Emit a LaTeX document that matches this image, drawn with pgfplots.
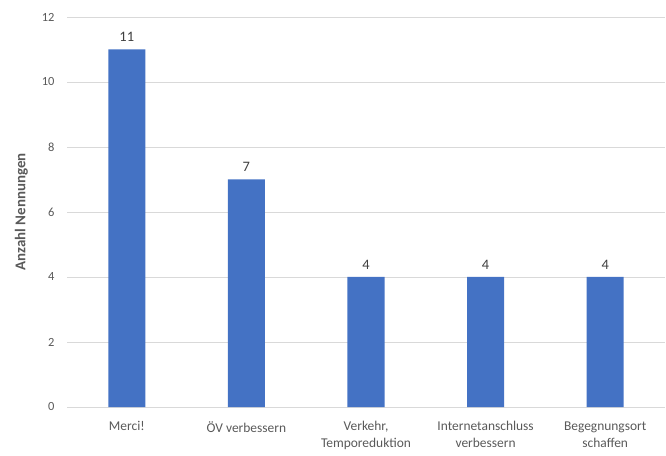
\documentclass[border=0pt]{standalone}
\usepackage{fontspec}
\setmainfont{Carlito}
\usepackage{pgfplots}
\pgfplotsset{compat=1.18}
\definecolor{barblue}{HTML}{4472C4}
\definecolor{txtgray}{HTML}{595959}
\definecolor{gridgray}{HTML}{D9D9D9}
\begin{document}
\begin{tikzpicture}
\path (-67bp,-49bp) rectangle (599bp,407bp);
\begin{axis}[
  scale only axis,
  width=598bp, height=390bp,
  ybar, bar width=37bp,
  xmin=-0.5, xmax=4.5,
  ymin=0, ymax=12,
  ytick={0,2,...,12},
  xtick=data,
  xticklabels={Merci!,ÖV verbessern,{Verkehr,\\Temporeduktion},{Internetanschluss\\verbessern},{Begegnungsort\\schaffen}},
  xticklabel style={align=center, font=\fontsize{13.5}{17}\selectfont, text=txtgray, yshift=-11bp},
  yticklabel style={font=\fontsize{12.5}{15}\selectfont, text=txtgray, xshift=-9bp},
  /pgf/number format/assume math mode=true,
  major tick length=0pt,
  ymajorgrids,
  grid style={gridgray, line width=0.75bp},
  axis line style={draw=none},
  axis x line*=bottom,
  x axis line style={draw=gridgray, line width=0.75bp},
  ylabel={\bfseries Anzahl Nennungen},
  ylabel style={font=\fontsize{15}{18}\selectfont, text=txtgray, yshift=7bp},
  nodes near coords,
  nodes near coords style={font=\fontsize{14.5}{17}\selectfont, text=black!75, yshift=4bp},
  every node near coord/.append style={/pgf/number format/assume math mode=true},
]
\addplot[fill=barblue, draw=none] coordinates {(0,11) (1,7) (2,4) (3,4) (4,4)};
\end{axis}
\end{tikzpicture}
\end{document}
